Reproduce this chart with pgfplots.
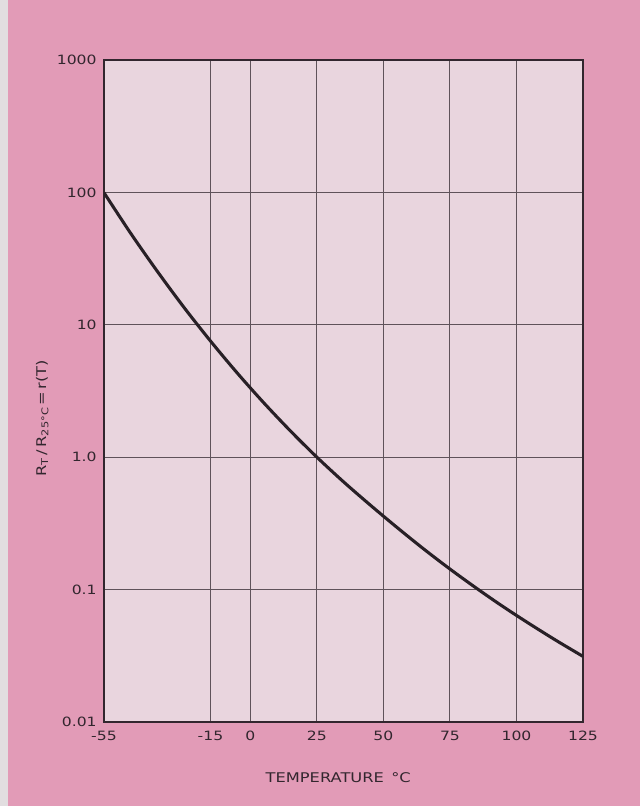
\documentclass[border=0pt]{standalone}
\usepackage{fontspec}
\setmainfont[FakeStretch=1.22]{DejaVu Sans}
\usepackage{pgfplots}
\pgfplotsset{compat=1.18}
\definecolor{outerpink}{RGB}{226,155,183}
\definecolor{innerpink}{RGB}{233,213,222}
\definecolor{stripgray}{RGB}{226,222,224}
\definecolor{gridgray}{RGB}{95,82,90}
\definecolor{inkdark}{RGB}{50,38,46}
\definecolor{curvecol}{RGB}{40,32,38}
\begin{document}
\begin{tikzpicture}
\fill[outerpink] (0pt,0pt) rectangle (480pt,604.5pt);
\fill[stripgray] (0pt,0pt) rectangle (6pt,604.5pt);
\useasboundingbox (0pt,0pt) rectangle (480pt,604.5pt);
\begin{axis}[
  at={(78pt,63pt)}, anchor=south west,
  scale only axis, width=359.25pt, height=496.5pt,
  ymode=log,
  xmin=-55, xmax=125, ymin=0.01, ymax=1000,
  xtick={-55,-15,0,25,50,75,100,125},
  xticklabels={-55,-15,0,25,50,75,100,125},
  ytick={0.01,0.1,1,10,100,1000},
  yticklabels={0.01,0.1,1.0,10,100,1000},
  yminorticks=false, xminorticks=false,
  major tick length=0pt,
  xmajorgrids, ymajorgrids,
  major grid style={draw=gridgray, line width=0.7pt},
  axis line style={draw=inkdark, line width=1.1pt},
  axis background/.style={fill=innerpink},
  tick label style={font=\fontsize{9.6}{10}\selectfont, text=inkdark},
  xticklabel style={yshift=-3pt},
  yticklabel style={xshift=-2pt},
  xlabel={TEMPERATURE \,°C},
  xlabel style={at={(axis description cs:0.489,-0.0846)}, anchor=center, font=\fontsize{10}{12}\selectfont, text=inkdark},
  ylabel={R\textsubscript{T}\,/\,R\textsubscript{25°C}\,=\,r(T)},
  ylabel style={at={(axis description cs:-0.129,0.459)}, anchor=center, rotate=0, font=\fontsize{10}{12}\selectfont, text=inkdark},
]
\addplot[curvecol, line width=2.3pt, smooth] coordinates {
(-55,99.5)
(-45,49.2)
(-35,25.4)
(-25,13.58)
(-15,7.55)
(-5,4.34)
(5,2.58)
(15,1.583)
(25,1.0)
(35,0.652)
(45,0.436)
(55,0.296)
(65,0.2037)
(75,0.1430)
(85,0.1023)
(95,0.0743)
(105,0.0550)
(115,0.0412)
(125,0.0313)
};
\end{axis}
\end{tikzpicture}
\end{document}
